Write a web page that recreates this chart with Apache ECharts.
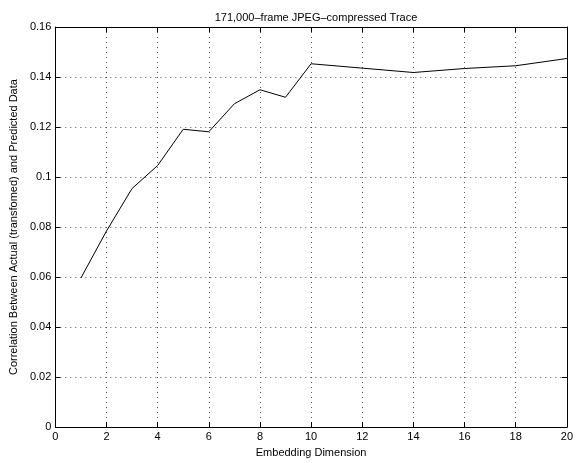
<!DOCTYPE html>
<html>
<head>
<meta charset="utf-8">
<script src="https://cdn.jsdelivr.net/npm/echarts@6/dist/echarts.min.js"></script>
<style>
  html, body { margin: 0; padding: 0; background: #fff; }
  #chart { width: 576px; height: 463px; }
</style>
</head>
<body>
<div id="chart"></div>
<script>
const dims = [1, 2, 3, 4, 5, 6, 7, 8, 9, 10, 14, 16, 18, 20];
const correlation = [0.0596, 0.0784, 0.0954, 0.1046, 0.1191, 0.1181, 0.1293, 0.1349, 0.1319, 0.1453, 0.1418, 0.1434, 0.1445, 0.1474];

const chartTitle = '171,000\u2013frame JPEG\u2013compressed Trace';
const xName = 'Embedding Dimension';
const yName = 'Correlation Between Actual (transfomed) and Predicted Data';

const font = 'Liberation Sans, Arial, sans-serif';
const chart = echarts.init(document.getElementById('chart'));

const gridLine = { show: true, lineStyle: { color: '#555', type: [1, 4], width: 1 } };
const boxLine = { show: true, onZero: false, lineStyle: { color: '#000', width: 1 } };
const inTick = { show: true, inside: true, length: 5, lineStyle: { color: '#000' } };

chart.setOption({
  animation: false,
  backgroundColor: '#fff',
  title: {
    text: chartTitle,
    left: 311, top: 7, textAlign: 'center',
    textStyle: { fontFamily: font, fontSize: 11, fontWeight: 'normal', color: '#000' }
  },
  grid: { left: 50, right: 4, top: 27, bottom: 30, containLabel: false },
  xAxis: [{
    type: 'value', min: 0, max: 20, interval: 2,
    name: xName, nameLocation: 'middle', nameGap: 19,
    nameTextStyle: { fontFamily: font, fontSize: 11, color: '#000' },
    axisLine: boxLine, axisTick: inTick,
    axisLabel: { fontFamily: font, fontSize: 11, color: '#000', margin: 4 },
    splitLine: gridLine
  }, {
    type: 'value', position: 'top', min: 0, max: 20, interval: 2,
    axisLine: boxLine, axisTick: inTick, axisLabel: { show: false }, splitLine: { show: false }
  }],
  yAxis: [{
    type: 'value', min: 0, max: 0.16, interval: 0.02,
    name: yName, nameLocation: 'middle', nameGap: 36, nameRotate: 90,
    nameTextStyle: { fontFamily: font, fontSize: 11, color: '#000' },
    axisLine: boxLine, axisTick: inTick,
    axisLabel: { fontFamily: font, fontSize: 11, color: '#000', margin: 4 },
    splitLine: gridLine
  }, {
    type: 'value', position: 'right', min: 0, max: 0.16, interval: 0.02,
    axisLine: boxLine, axisTick: inTick, axisLabel: { show: false }, splitLine: { show: false }
  }],
  series: [{
    type: 'line',
    data: dims.map((d, i) => [d, correlation[i]]),
    showSymbol: false,
    lineStyle: { color: '#000', width: 1 },
    itemStyle: { color: '#000' }
  }]
});
</script>
</body>
</html>
